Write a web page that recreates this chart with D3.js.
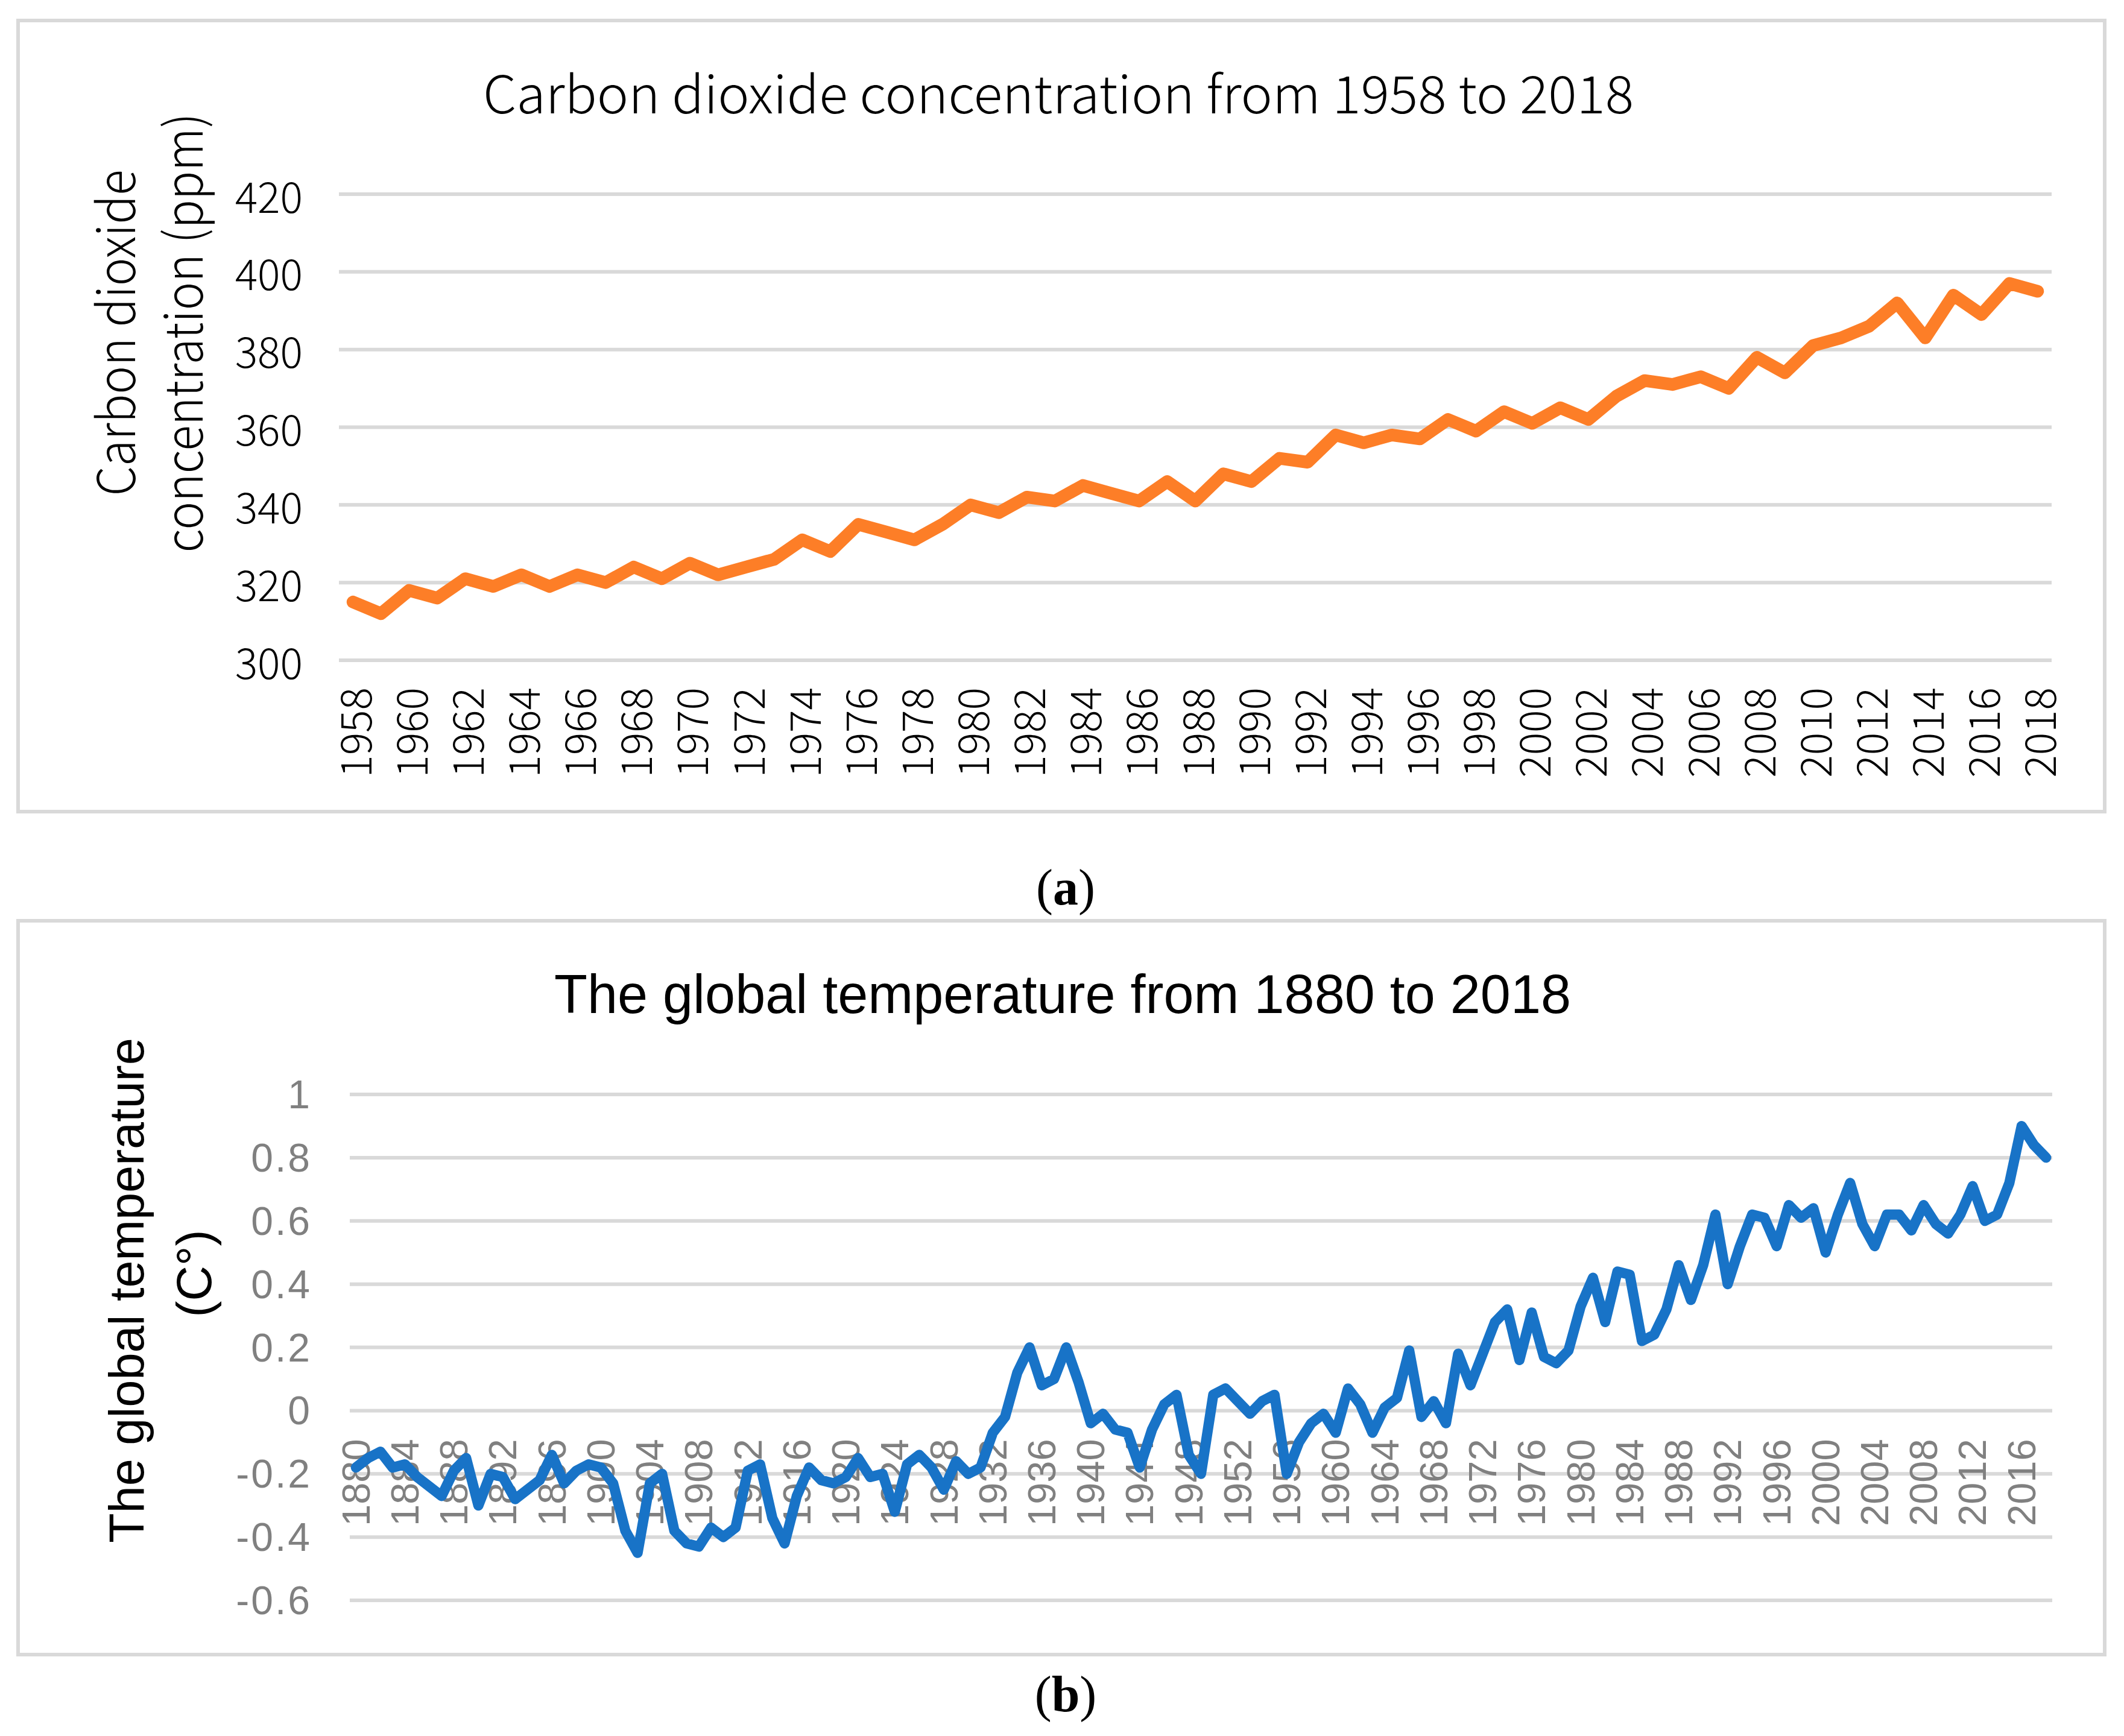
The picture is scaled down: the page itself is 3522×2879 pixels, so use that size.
<!DOCTYPE html>
<html>
<head>
<meta charset="utf-8">
<script src="https://cdn.jsdelivr.net/npm/d3@7/dist/d3.min.js"></script>
<style>
  html, body { margin: 0; padding: 0; background: #ffffff; }
  svg { display: block; }
</style>
</head>
<body>
<script>
// ---------- Data ----------
const co2Years = d3.range(1958, 2019);
const co2Values = [
  315, 312, 318, 316, 321, 319, 322, 319, 322, 320,
  324, 321, 325, 322, 324, 326, 331, 328, 335, 333,
  331, 335, 340, 338, 342, 341, 345, 343, 341, 346,
  341, 348, 346, 352, 351, 358, 356, 358, 357, 362,
  359, 364, 361, 365, 362, 368, 372, 371, 373, 370,
  378, 374, 381, 383, 386, 392, 383, 394, 389, 397,
  395
];
const co2YTicks = [300, 320, 340, 360, 380, 400, 420];
const co2XTickYears = d3.range(1958, 2019, 2);

const tempYears = d3.range(1880, 2019);
const tempValues = [
  -0.18, -0.15, -0.13, -0.18, -0.17, -0.21, -0.24, -0.27, -0.19, -0.15,
  -0.30, -0.20, -0.21, -0.28, -0.25, -0.22, -0.14, -0.23, -0.19, -0.17,
  -0.18, -0.23, -0.38, -0.45, -0.23, -0.20, -0.38, -0.42, -0.43, -0.37,
  -0.40, -0.37, -0.19, -0.17, -0.34, -0.42, -0.27, -0.18, -0.22, -0.23,
  -0.21, -0.15, -0.21, -0.20, -0.32, -0.17, -0.14, -0.18, -0.25, -0.16,
  -0.20, -0.18, -0.07, -0.02, 0.12, 0.20, 0.08, 0.10, 0.20, 0.09,
  -0.04, -0.01, -0.06, -0.07, -0.18, -0.06, 0.02, 0.05, -0.14, -0.20,
  0.05, 0.07, 0.03, -0.01, 0.03, 0.05, -0.20, -0.10, -0.04, -0.01,
  -0.07, 0.07, 0.02, -0.07, 0.01, 0.04, 0.19, -0.02, 0.03, -0.04,
  0.18, 0.08, 0.18, 0.28, 0.32, 0.16, 0.31, 0.17, 0.15, 0.19,
  0.33, 0.42, 0.28, 0.44, 0.43, 0.22, 0.24, 0.32, 0.46, 0.35,
  0.46, 0.62, 0.40, 0.52, 0.62, 0.61, 0.52, 0.65, 0.61, 0.64,
  0.50, 0.62, 0.72, 0.59, 0.52, 0.62, 0.62, 0.57, 0.65, 0.59,
  0.56, 0.62, 0.71, 0.60, 0.62, 0.72, 0.90, 0.84, 0.80
];
const tempYTicks = [-0.6, -0.4, -0.2, 0, 0.2, 0.4, 0.6, 0.8, 1];
const tempXTickYears = d3.range(1880, 2019, 4);

// ---------- Setup ----------
const W = 3522, H = 2879;
const svg = d3.select("body").append("svg")
  .attr("width", W).attr("height", H)
  .attr("viewBox", `0 0 ${W} ${H}`);
svg.append("rect").attr("width", W).attr("height", H).attr("fill", "#ffffff");

const GRID = "#d9d9d9";
const FONT_A = "'Noto Sans CJK SC', 'Noto Sans', sans-serif";
const WEIGHT_A = 300;
const FONT_B = "'Liberation Sans', Arial, sans-serif";
const SERIF = "'Liberation Serif', 'DejaVu Serif', serif";

// ================= Chart (a) =================
const gA = svg.append("g");
gA.append("rect")
  .attr("x", 30).attr("y", 34).attr("width", 3460).attr("height", 1312)
  .attr("fill", "#fff").attr("stroke", GRID).attr("stroke-width", 6);

const xA = d3.scalePoint().domain(co2Years).range([562, 3402]).padding(0.5);
const yA = d3.scaleLinear().domain([300, 420]).range([1095, 322]);

gA.append("text")
  .attr("x", 1755).attr("y", 188)
  .attr("text-anchor", "middle")
  .attr("font-family", FONT_A).attr("font-weight", WEIGHT_A).attr("font-size", 86)
  .attr("textLength", 1908).attr("lengthAdjust", "spacingAndGlyphs")
  .attr("fill", "#000")
  .text("Carbon dioxide concentration from 1958 to 2018");

// gridlines
gA.append("g").selectAll("line").data(co2YTicks).join("line")
  .attr("x1", 562).attr("x2", 3402)
  .attr("y1", d => yA(d)).attr("y2", d => yA(d))
  .attr("stroke", GRID).attr("stroke-width", 6);

// y tick labels
gA.append("g").selectAll("text").data(co2YTicks).join("text")
  .attr("x", 502).attr("y", d => yA(d))
  .attr("text-anchor", "end").attr("dominant-baseline", "central")
  .attr("font-family", FONT_A).attr("font-weight", WEIGHT_A).attr("font-size", 70).attr("fill", "#000")
  .text(d => d);

// x tick labels
gA.append("g").selectAll("text").data(co2XTickYears).join("text")
  .attr("transform", d => `translate(${xA(d)},1140) rotate(-90)`)
  .attr("text-anchor", "end").attr("dominant-baseline", "central")
  .attr("font-family", FONT_A).attr("font-weight", WEIGHT_A).attr("font-size", 70).attr("fill", "#000")
  .text(d => d);

// y title
gA.append("text")
  .attr("transform", "translate(224,552) rotate(-90)")
  .attr("text-anchor", "middle")
  .attr("font-family", FONT_A).attr("font-weight", WEIGHT_A).attr("font-size", 86).attr("fill", "#000")
  .attr("textLength", 541).attr("lengthAdjust", "spacingAndGlyphs")
  .text("Carbon dioxide");
gA.append("text")
  .attr("transform", "translate(336,552) rotate(-90)")
  .attr("text-anchor", "middle")
  .attr("font-family", FONT_A).attr("font-weight", WEIGHT_A).attr("font-size", 86).attr("fill", "#000")
  .attr("textLength", 729).attr("lengthAdjust", "spacingAndGlyphs")
  .text("concentration (ppm)");

// line
const lineA = d3.line().x((d, i) => xA(co2Years[i])).y(d => yA(d));
gA.append("path").datum(co2Values)
  .attr("d", lineA)
  .attr("fill", "none").attr("stroke", "#fd7e27")
  .attr("stroke-width", 21)
  .attr("stroke-linejoin", "round").attr("stroke-linecap", "round");

// caption (a)
const capA = svg.append("text")
  .attr("x", 1767).attr("y", 1500)
  .attr("text-anchor", "middle")
  .attr("font-family", SERIF).attr("font-size", 84).attr("fill", "#000");
capA.append("tspan").text("(");
capA.append("tspan").attr("font-weight", "bold").text("a");
capA.append("tspan").text(")");

// ================= Chart (b) =================
const gB = svg.append("g");
gB.append("rect")
  .attr("x", 30).attr("y", 1527).attr("width", 3460).attr("height", 1217)
  .attr("fill", "#fff").attr("stroke", GRID).attr("stroke-width", 6);

const xB = d3.scalePoint().domain(tempYears).range([580, 3403]).padding(0.5);
const yB = d3.scaleLinear().domain([-0.6, 1]).range([2654, 1815]);

gB.append("text")
  .attr("x", 1762).attr("y", 1680)
  .attr("text-anchor", "middle")
  .attr("font-family", FONT_B).attr("font-size", 90).attr("fill", "#000")
  .text("The global temperature from 1880 to 2018");

gB.append("g").selectAll("line").data(tempYTicks).join("line")
  .attr("x1", 580).attr("x2", 3403)
  .attr("y1", d => yB(d)).attr("y2", d => yB(d))
  .attr("stroke", GRID).attr("stroke-width", 6);

const fmt = d => String(Math.round(d * 10) / 10);
gB.append("g").selectAll("text").data(tempYTicks).join("text")
  .attr("x", 517).attr("y", d => yB(d))
  .attr("text-anchor", "end").attr("dominant-baseline", "central")
  .attr("font-family", FONT_B).attr("font-size", 66).attr("fill", "#808080")
  .attr("letter-spacing", 3)
  .text(fmt);

gB.append("g").selectAll("text").data(tempXTickYears).join("text")
  .attr("transform", d => `translate(${xB(d)},${yB(0) + 47}) rotate(-90)`)
  .attr("text-anchor", "end").attr("dominant-baseline", "central")
  .attr("font-family", FONT_B).attr("font-size", 65).attr("fill", "#808080")
  .text(d => d);

gB.append("text")
  .attr("transform", "translate(238,2140) rotate(-90)")
  .attr("text-anchor", "middle")
  .attr("font-family", FONT_B).attr("font-size", 81).attr("fill", "#000")
  .text("The global temperature");
gB.append("text")
  .attr("transform", "translate(350,2112) rotate(-90)")
  .attr("text-anchor", "middle")
  .attr("font-family", FONT_B).attr("font-size", 81).attr("fill", "#000")
  .text("(C°)");

const lineB = d3.line().x((d, i) => xB(tempYears[i])).y(d => yB(d));
gB.append("path").datum(tempValues)
  .attr("d", lineB)
  .attr("fill", "none").attr("stroke", "#1873c7")
  .attr("stroke-width", 17)
  .attr("stroke-linejoin", "round").attr("stroke-linecap", "round");

const capB = svg.append("text")
  .attr("x", 1767).attr("y", 2838)
  .attr("text-anchor", "middle")
  .attr("font-family", SERIF).attr("font-size", 84).attr("fill", "#000");
capB.append("tspan").text("(");
capB.append("tspan").attr("font-weight", "bold").text("b");
capB.append("tspan").text(")");
</script>
</body>
</html>
